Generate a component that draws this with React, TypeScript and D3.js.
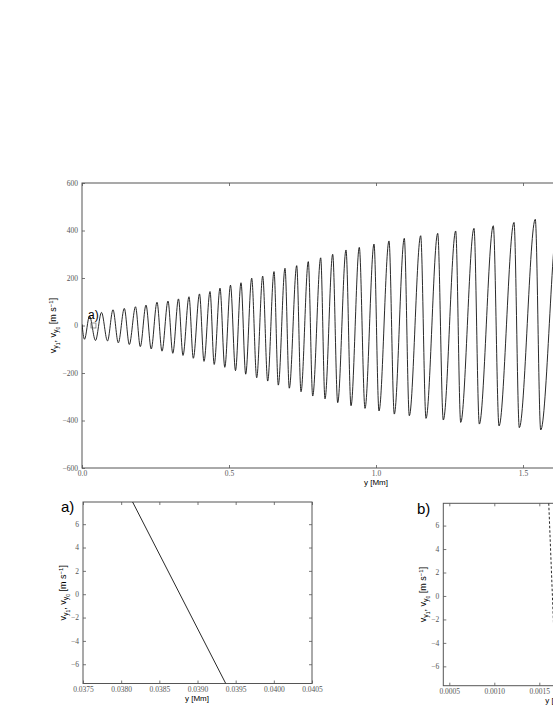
import React, { useEffect, useRef } from 'react';
import * as d3 from 'd3';

// extrema of the oscillation (y in Mm, v in m/s)
const extremaY = [
  0, 0.0085, 0.0255, 0.0459, 0.0663, 0.0867, 0.1054, 0.1235, 0.1439, 0.1609,
  0.182, 0.1983, 0.2177, 0.2354, 0.2551, 0.2721, 0.2925, 0.3088, 0.3282, 0.3435,
  0.3639, 0.3786, 0.3997, 0.415, 0.4354, 0.4497, 0.4694, 0.4857, 0.5051, 0.5221,
  0.5408, 0.5568, 0.5772, 0.5942, 0.6146, 0.6316, 0.6531, 0.6677, 0.6905, 0.7051,
  0.7303, 0.7449, 0.7697, 0.7847, 0.8119, 0.8265, 0.8527, 0.8697, 0.898, 0.915,
  0.9432, 0.9626, 0.9932, 1.0102, 1.0442, 1.0622, 1.0963, 1.1133, 1.152, 1.1701,
  1.2099, 1.2289, 1.2711, 1.2881, 1.3333, 1.3514, 1.399, 1.4184, 1.4694, 1.4874,
  1.5418, 1.5602, 1.619, 1.64
];
const extremaV = [
  5, -58, 40, -63, 55, -65, 66, -73, 72, -80,
  79, -89, 86, -99, 98, -108, 103, -117, 112, -126,
  121, -138, 133, -151, 143, -164, 157, -176, 170, -190,
  180, -205, 199, -220, 208, -234, 227, -251, 241, -264,
  252, -279, 269, -297, 285, -309, 300, -325, 318, -338,
  329, -349, 343, -360, 356, -373, 367, -380, 378, -391,
  388, -398, 398, -408, 409, -415, 420, -423, 434, -430,
  447, -440, 455, -448
];

// zoomed panels
const zoomAY = [0.03815, 0.03937];
const zoomAV = [7.9, -7.65];
const zoomBY = [0.001605, 0.001685];
const zoomBV = [7.9, -7.65];

const mainXTicks = [0, 0.5, 1.0, 1.5];
const mainVTicks = [-600, -400, -200, 0, 200, 400, 600];
const zoomVTicks = [-6, -4, -2, 0, 2, 4, 6];
const zoomAXTicks = [0.0375, 0.038, 0.0385, 0.039, 0.0395, 0.04, 0.0405];
const zoomBXTicks = [0.0005, 0.001, 0.0015, 0.002, 0.0025];

const tickFont = 'Liberation Serif, DejaVu Serif, serif';
const labelFont = 'Liberation Sans, Arial, sans-serif';

function drawPanel(svg, o) {
  const x = d3.scaleLinear().domain(o.xDomain).range([o.left, o.left + o.width]);
  const y = d3.scaleLinear().domain(o.yDomain).range([o.top + o.height, o.top]);
  const g = svg.append('g');

  g.append('clipPath').attr('id', o.id)
    .append('rect')
    .attr('x', o.left).attr('y', o.top)
    .attr('width', o.width).attr('height', o.height);

  const styleAxis = (sel, labels) => {
    sel.select('.domain').remove();
    sel.selectAll('line').attr('stroke', '#555').attr('stroke-width', 0.8);
    sel.selectAll('text')
      .style('font-family', tickFont)
      .style('font-size', '7.5px')
      .style('fill', '#555');
    if (!labels) sel.selectAll('text').remove();
  };

  g.append('g').attr('transform', `translate(0,${o.top + o.height})`)
    .call(d3.axisBottom(x).tickValues(o.xTicks).tickFormat(d3.format(o.xFormat)).tickSize(-3).tickPadding(3))
    .call(s => styleAxis(s, true));
  g.append('g').attr('transform', `translate(0,${o.top})`)
    .call(d3.axisTop(x).tickValues(o.xTicks).tickSize(-3))
    .call(s => styleAxis(s, false));
  g.append('g').attr('transform', `translate(${o.left},0)`)
    .call(d3.axisLeft(y).tickValues(o.yTicks).tickSize(-3).tickPadding(4))
    .call(s => styleAxis(s, true));
  g.append('g').attr('transform', `translate(${o.left + o.width},0)`)
    .call(d3.axisRight(y).tickValues(o.yTicks).tickSize(-3))
    .call(s => styleAxis(s, false));

  g.append('rect')
    .attr('x', o.left).attr('y', o.top)
    .attr('width', o.width).attr('height', o.height)
    .attr('fill', 'none').attr('stroke', '#555').attr('stroke-width', 1);

  // x label
  g.append('text')
    .attr('x', o.left + o.xLabelDx).attr('y', o.top + o.height + 17)
    .attr('text-anchor', 'middle')
    .style('font-family', labelFont).style('font-size', '8px')
    .text('y [Mm]');

  // y label
  const t = g.append('text')
    .attr('transform', `translate(${o.yLabelX},${o.top + o.height / 2}) rotate(-90)`)
    .attr('text-anchor', 'middle')
    .style('font-family', labelFont).style('font-size', '9px');
  t.append('tspan').text('v');
  t.append('tspan').attr('dy', 2).style('font-size', '7px').text('y');
  t.append('tspan').attr('dy', 1.5).style('font-size', '5px').text('1');
  t.append('tspan').attr('dy', -3.5).text(', v');
  t.append('tspan').attr('dy', 2).style('font-size', '7px').text('y');
  t.append('tspan').attr('dy', 1.5).style('font-size', '5px').text('0');
  t.append('tspan').attr('dy', -3.5).text(' [m s');
  t.append('tspan').attr('dy', -3).style('font-size', '6px').text('−1');
  t.append('tspan').attr('dy', 3).text(']');

  return { x, y, g };
}

const App = () => {
  const svgRef = useRef(null);

  useEffect(() => {
    const svg = d3.select(svgRef.current);
    svg.selectAll('*').remove();

    // main panel
    const main = drawPanel(svg, {
      id: 'clip-main', left: 82, top: 183, width: 294 * 1.8, height: 285,
      xDomain: [0, 1.8], yDomain: [-600, 600],
      xTicks: mainXTicks, yTicks: mainVTicks, xFormat: '.1f',
      xLabelDx: 294, yLabelX: 56
    });
    const mainData = extremaY.map((d, i) => [d, extremaV[i]]);
    main.g.append('path')
      .datum(mainData)
      .attr('clip-path', 'url(#clip-main)')
      .attr('fill', 'none')
      .attr('stroke', '#111')
      .attr('stroke-width', 0.9)
      .attr('d', d3.line().x(d => main.x(d[0])).y(d => main.y(d[1])).curve(d3.curveMonotoneX));

    // marker for zoom region a)
    main.g.append('rect')
      .attr('x', main.x(0.039) - 2.5).attr('y', main.y(0) - 2.5)
      .attr('width', 5).attr('height', 5)
      .attr('fill', 'none').attr('stroke', '#666').attr('stroke-width', 0.7);
    main.g.append('text')
      .attr('x', 88).attr('y', 319)
      .style('font-family', labelFont).style('font-size', '12px')
      .text('a)');

    // panel a)
    const pa = drawPanel(svg, {
      id: 'clip-a', left: 83, top: 502, width: 229, height: 181.5,
      xDomain: [0.0375, 0.0405], yDomain: [-7.65, 7.9],
      xTicks: zoomAXTicks, yTicks: zoomVTicks, xFormat: '.4f',
      xLabelDx: 114, yLabelX: 66
    });
    pa.g.append('path')
      .datum(zoomAY.map((d, i) => [d, zoomAV[i]]))
      .attr('clip-path', 'url(#clip-a)')
      .attr('fill', 'none').attr('stroke', '#111').attr('stroke-width', 0.9)
      .attr('d', d3.line().x(d => pa.x(d[0])).y(d => pa.y(d[1])));
    pa.g.append('text')
      .attr('x', 61).attr('y', 512)
      .style('font-family', labelFont).style('font-size', '15px')
      .text('a)');

    // panel b)
    const pb = drawPanel(svg, {
      id: 'clip-b', left: 443.3, top: 503.3, width: 229, height: 182.4,
      xDomain: [0.0005 - 6 / 90000, 0.0005 - 6 / 90000 + 229 / 90000], yDomain: [-7.65, 7.9],
      xTicks: zoomBXTicks, yTicks: zoomVTicks, xFormat: '.4f',
      xLabelDx: 114, yLabelX: 426
    });
    pb.g.append('path')
      .datum(zoomBY.map((d, i) => [d, zoomBV[i]]))
      .attr('clip-path', 'url(#clip-b)')
      .attr('fill', 'none').attr('stroke', '#111').attr('stroke-width', 0.9)
      .attr('stroke-dasharray', '2.5,2')
      .attr('d', d3.line().x(d => pb.x(d[0])).y(d => pb.y(d[1])));
    pb.g.append('text')
      .attr('x', 417).attr('y', 514)
      .style('font-family', labelFont).style('font-size', '15px')
      .text('b)');
  }, []);

  return (
    <svg
      ref={svgRef}
      width={553}
      height={715}
      style={{ position: 'absolute', left: 0, top: 0, background: '#fff' }}
    />
  );
};

export default App;
